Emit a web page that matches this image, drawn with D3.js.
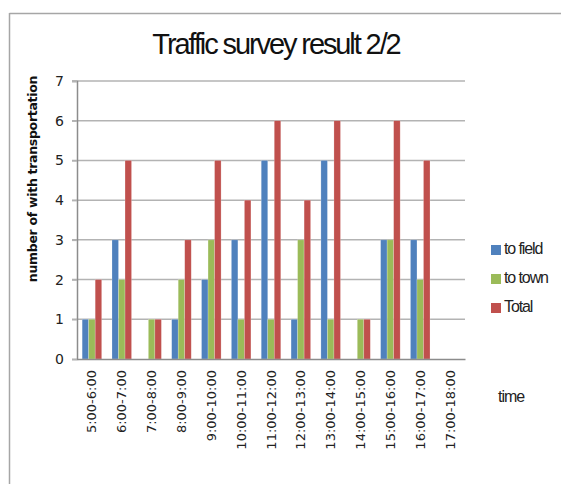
<!DOCTYPE html>
<html>
<head>
<meta charset="utf-8">
<script src="https://cdn.jsdelivr.net/npm/d3@7"></script>
<style>
  body { margin: 0; background: #fff; }
  svg { display: block; font-family: "Liberation Sans", Arial, sans-serif; }
</style>
</head>
<body>
<svg id="chart" width="561" height="484"></svg>
<script>
// Time slots surveyed
const categories = ["5:00-6:00", "6:00-7:00", "7:00-8:00", "8:00-9:00", "9:00-10:00",
  "10:00-11:00", "11:00-12:00", "12:00-13:00", "13:00-14:00", "14:00-15:00",
  "15:00-16:00", "16:00-17:00", "17:00-18:00"];

// Counts per slot
const toField = [1, 3, 0, 1, 2, 3, 5, 1, 5, 0, 3, 3, 0];
const toTown  = [1, 2, 1, 2, 3, 1, 1, 3, 1, 1, 3, 2, 0];
const total   = [2, 5, 1, 3, 5, 4, 6, 4, 6, 1, 6, 5, 0];

const seriesNames = ["to field", "to town", "Total"];
const seriesValues = [toField, toTown, total];
const seriesColors = ["#4F81BD", "#9BBB59", "#C0504D"];
const yTicks = [0, 1, 2, 3, 4, 5, 6, 7];

const svg = d3.select("#chart");

// Outer chart frame (top and left edges visible)
svg.append("line").attr("x1", 9.5).attr("x2", 561).attr("y1", 13.5).attr("y2", 13.5)
  .attr("stroke", "#a6a6a6").attr("stroke-width", 1.5);
svg.append("line").attr("x1", 9.5).attr("x2", 9.5).attr("y1", 13).attr("y2", 484)
  .attr("stroke", "#a6a6a6").attr("stroke-width", 1.5);

const plot = { left: 77, right: 465, top: 81, bottom: 359 };

const x = d3.scaleBand().domain(categories).range([plot.left, plot.right]).paddingInner(0).paddingOuter(0);
const y = d3.scaleLinear().domain([0, 7]).range([plot.bottom, plot.top]);

// Horizontal gridlines, with a short tick left of the axis
svg.append("g").selectAll("line").data(yTicks.filter(d => d > 0)).join("line")
  .attr("x1", plot.left - 5).attr("x2", plot.right)
  .attr("y1", d => y(d)).attr("y2", d => y(d))
  .attr("stroke", "#b3b3b3").attr("stroke-width", 1.5);

// Bars: three series side by side within each band
const groupWidth = x.bandwidth() * 0.655;
const xs = d3.scaleBand().domain(d3.range(3)).range([0, groupWidth]);
const groupOffset = (x.bandwidth() - groupWidth) / 2;

const rows = [];
categories.forEach((c, i) => {
  seriesValues.forEach((vals, s) => rows.push({ c, s, v: vals[i] }));
});

svg.append("g").selectAll("rect").data(rows.filter(d => d.v > 0)).join("rect")
  .attr("x", d => x(d.c) + groupOffset + xs(d.s))
  .attr("width", xs.bandwidth())
  .attr("y", d => y(d.v))
  .attr("height", d => y(0) - y(d.v))
  .attr("fill", d => seriesColors[d.s])
  .attr("stroke", "#ffffff").attr("stroke-opacity", 0.35).attr("stroke-width", 0.6);

// Y axis
const yAxis = svg.append("g").attr("transform", `translate(${plot.left},0)`)
  .call(d3.axisLeft(y).tickValues(yTicks).tickFormat(d3.format("d")).tickSize(5).tickPadding(8));
yAxis.select(".domain").attr("stroke", "#8c8c8c").attr("stroke-width", 1.5);
yAxis.selectAll(".tick line").attr("stroke", "#b3b3b3").attr("stroke-width", 1.5);
yAxis.selectAll("text").attr("font-size", 14).attr("fill", "#222")
  .attr("font-family", "'DejaVu Sans', Verdana, sans-serif");

// X axis
const xAxis = svg.append("g").attr("transform", `translate(0,${plot.bottom})`)
  .call(d3.axisBottom(x).tickSize(0).tickPadding(0));
xAxis.select(".domain").attr("stroke", "#8c8c8c").attr("stroke-width", 1.5);
xAxis.selectAll("text")
  .attr("font-size", 13).attr("fill", "#222")
  .attr("font-family", "'DejaVu Sans', Verdana, sans-serif")
  .attr("text-anchor", "end")
  .attr("dy", "0.35em")
  .attr("transform", "translate(0,11) rotate(-90)");

// Title
svg.append("text").attr("x", 276).attr("y", 54).attr("text-anchor", "middle")
  .attr("font-size", 29).attr("letter-spacing", -2.1).attr("fill", "#111")
  .text("Traffic survey result 2/2");

// Y axis title
svg.append("text")
  .attr("transform", `translate(37,179) rotate(-90)`)
  .attr("text-anchor", "middle")
  .attr("font-size", 12.5).attr("font-weight", "bold").attr("fill", "#111")
  .attr("font-family", "'DejaVu Sans', Verdana, sans-serif")
  .attr("letter-spacing", -0.3)
  .text("number of with transportation");

// X axis title
svg.append("text").attr("x", 498).attr("y", 402)
  .attr("font-size", 16).attr("letter-spacing", -1).attr("fill", "#222")
  .text("time");

// Legend
const legend = svg.append("g").attr("transform", "translate(491,245)");
seriesNames.forEach((name, i) => {
  const g = legend.append("g").attr("transform", `translate(0,${i * 29})`);
  g.append("rect").attr("width", 10).attr("height", 10).attr("fill", seriesColors[i]);
  g.append("text").attr("x", 13).attr("y", 9).attr("font-size", 16)
    .attr("letter-spacing", -1.1).attr("fill", "#222").text(name);
});
</script>
</body>
</html>
